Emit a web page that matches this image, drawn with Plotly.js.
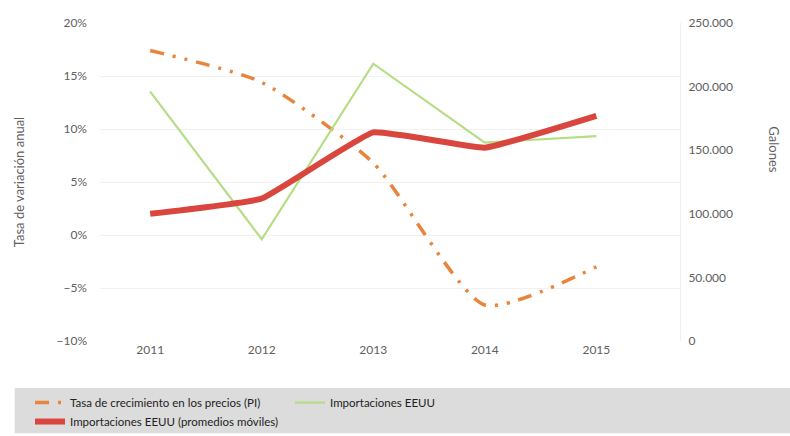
<!DOCTYPE html>
<html>
<head>
<meta charset="utf-8">
<script src="https://cdn.plot.ly/plotly-3.0.1.min.js"></script>
<style>html,body{margin:0;padding:0;background:#fff;}#chart{width:790px;height:436px;}</style>
</head>
<body>
<div id="chart"></div>
<script>
const years = ["2011", "2012", "2013", "2014", "2015"];
const priceGrowth = [17.4, 14.4, 6.8, -6.6, -3.0];          // % (left axis)
const imports = [196000, 80000, 218000, 156000, 161000];      // galones (right axis)
const importsMovingAvg = [100000, 112000, 164000, 152000, 177000];

const traces = [
  {x: years, y: priceGrowth, type: 'scatter', mode: 'lines', yaxis: 'y',
   name: 'Tasa de crecimiento en los precios (PI)',
   line: {color: '#E8843C', width: 3.5, shape: 'spline', smoothing: 0.6, dash: '14px,9px,3px,9px,3px,9px'}},
  {x: years, y: imports, type: 'scatter', mode: 'lines', yaxis: 'y2',
   name: 'Importaciones EEUU',
   line: {color: '#B5DD86', width: 2.2}},
  {x: years, y: importsMovingAvg, type: 'scatter', mode: 'lines', yaxis: 'y2',
   name: 'Importaciones EEUU (promedios móviles)',
   line: {color: '#D9463E', width: 6, shape: 'spline', smoothing: 0.3}}
];

const tickFont = {family: 'Lato, "Open Sans", sans-serif', size: 12, color: '#606060'};
const layout = {
  width: 790, height: 436,
  margin: {l: 100, r: 110, t: 23, b: 95},
  paper_bgcolor: '#fff', plot_bgcolor: '#fff',
  separators: ',.',
  showlegend: true,
  xaxis: {type: 'category', range: [-0.45, 4.75], showgrid: false, zeroline: false,
    showline: false, ticks: '', tickfont: tickFont},
  yaxis: {range: [-10, 20], dtick: 5, ticksuffix: '%', showgrid: true, gridcolor: '#f1f1f1',
    zeroline: false, showline: false, tickfont: tickFont, ticklabelstandoff: 12,
    title: {text: 'Tasa de variación anual', font: {family: 'Lato, sans-serif', size: 13, color: '#606060'}, standoff: 28}},
  yaxis2: {overlaying: 'y', side: 'right', range: [0, 250000], dtick: 50000, tickformat: ',d',
    showgrid: false, zeroline: false, showline: true, linecolor: '#f0f0f0', tickfont: tickFont, ticklabelstandoff: 5},
  annotations: [
    {text: 'Galones', xref: 'paper', yref: 'paper', x: 1.18, y: 0.68, textangle: 90,
     showarrow: false, font: {family: 'Lato, sans-serif', size: 13, color: '#606060'}}
  ],
  shapes: [
    {type: 'rect', xref: 'paper', yref: 'paper', x0: -0.147, x1: 1.19, y0: -0.148, y1: -0.29,
     fillcolor: '#dcdcdc', line: {width: 0}, layer: 'below'}
  ],
  legend: {orientation: 'h', xref: 'container', yref: 'container', x: 0.038, y: 0.11,
    xanchor: 'left', yanchor: 'top', bgcolor: 'rgba(0,0,0,0)', entrywidth: 215,
    font: {family: 'Lato, sans-serif', size: 11.5, color: '#222'}, tracegroupgap: 0, itemwidth: 30}
};

Plotly.newPlot('chart', traces, layout, {displayModeBar: false, staticPlot: true});
</script>
</body>
</html>
